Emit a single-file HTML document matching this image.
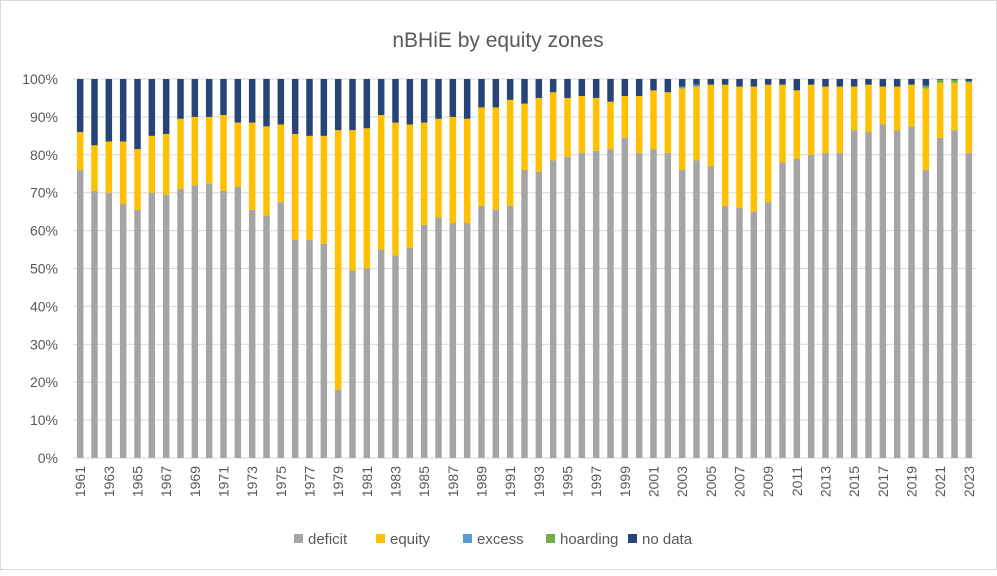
<!DOCTYPE html>
<html><head><meta charset="utf-8"><style>
body{margin:0;background:#fff;font-family:"Liberation Sans",sans-serif;}
#wrap{width:997px;height:570px;position:relative;border:1px solid #d9d9d9;box-sizing:border-box;}
</style></head><body>
<div id="wrap">
<svg id="chart" width="997" height="570"></svg>
</div>
<script>
const years=[];for(let y=1961;y<=2023;y++)years.push(String(y));
const deficit=[76,70.5,70,67,65.5,70,69.5,71,72,72.5,70.5,71.5,65.5,64,67.5,57.5,57.5,56.5,18,49.5,50,55,53.5,55.5,61.5,63.5,62,62,66.5,65.5,66.5,76,75.5,78.5,79.5,80.5,81,81.5,84.5,80.5,81.5,80.5,76,78.5,77,66.5,66,65,67.5,78,79,80,80.5,80.5,86.5,86,88,86.5,87.5,76,84.5,86.5,80.5];
const equity=[10,12,13.5,16.5,16,15,16,18.5,18,17.5,20,17,23,23.5,20.5,28,27.5,28.5,68.5,37,37,35.5,35,32.5,27,26,28,27.5,26,27,28,17.5,19.5,18,15.5,15,14,12.5,11,15,15.5,16,21.5,19.5,21.5,32,32,33,31,20.5,18,18.5,17.5,17.5,11.5,12.5,10,11.5,11,21.5,14.5,12.5,18.5];
const excess=[0,0,0,0,0,0,0,0,0,0,0,0,0,0,0,0,0,0,0,0,0,0,0,0,0,0,0,0,0,0,0,0,0,0,0,0,0,0,0,0,0,0,0.5,0.5,0,0,0,0,0,0,0,0,0,0,0,0,0,0,0,0,0,0,0];
const hoarding=[0,0,0,0,0,0,0,0,0,0,0,0,0,0,0,0,0,0,0,0,0,0,0,0,0,0,0,0,0,0,0,0,0,0,0,0,0,0,0,0,0,0,0,0,0,0,0,0,0,0,0,0,0,0,0,0,0,0,0,0.7,0.8,0.8,0.4];
const seriesNames=["deficit","equity","excess","hoarding","no data"];
const colors=["#a5a5a5","#ffc000","#5b9bd5","#70ad47","#264478"];
const yTicks=[0,10,20,30,40,50,60,70,80,90,100];
const NS="http://www.w3.org/2000/svg";
const svg=document.getElementById('chart');
const L=72,R=975,T=78,B=457;
const y=v=>B-(v/100)*(B-T);
const step=(R-L)/years.length;
const x=i=>L+step*(i+0.5);
const bw=6.5;
function mk(tag,attrs,parent){const e=document.createElementNS(NS,tag);for(const k in attrs)e.setAttribute(k,attrs[k]);(parent||svg).appendChild(e);return e;}
let t=mk('text',{x:497,y:46,'text-anchor':'middle','font-size':21,fill:'#595959'});


t.textContent='nBHiE by equity zones';
yTicks.forEach(v=>{
 const g=mk('line',{x1:L,x2:R,y1:y(v),y2:y(v),stroke:'#d9d9d9','stroke-width':1});
 
 
 const lb=mk('text',{x:57,y:y(v)+5,'text-anchor':'end','font-size':14,fill:'#595959'});
 
 
 lb.textContent=v+'%';
});
years.forEach((yr,i)=>{
 const vals=[deficit[i],equity[i],excess[i],hoarding[i]];
 const sum=vals.reduce((a,b)=>a+b,0);
 vals.push(Math.max(0,100-sum));
 let acc=0;
 vals.forEach((v,s)=>{
  if(v<=0)return;
  const r=mk('rect',{x:x(i)-bw/2,y:y(acc+v),width:bw,height:y(acc)-y(acc+v),fill:colors[s]});
  
  
  acc+=v;
 });
 if(i%2===0){
  const lb=mk('text',{x:0,y:0,'text-anchor':'end','font-size':14,fill:'#595959',transform:`translate(${x(i)+5},${B+8}) rotate(-90)`});
  
  
  lb.textContent=yr;
 }
});
const legX=[293,375,462,545,627];
seriesNames.forEach((n,s)=>{
 const g=mk('g',{});
 
 
 mk('rect',{x:legX[s],y:533,width:9,height:9,fill:colors[s]},g);
 const tx=mk('text',{x:legX[s]+14,y:543,'font-size':15,fill:'#595959'},g);
 tx.textContent=n;
});
</script>
</body></html>
